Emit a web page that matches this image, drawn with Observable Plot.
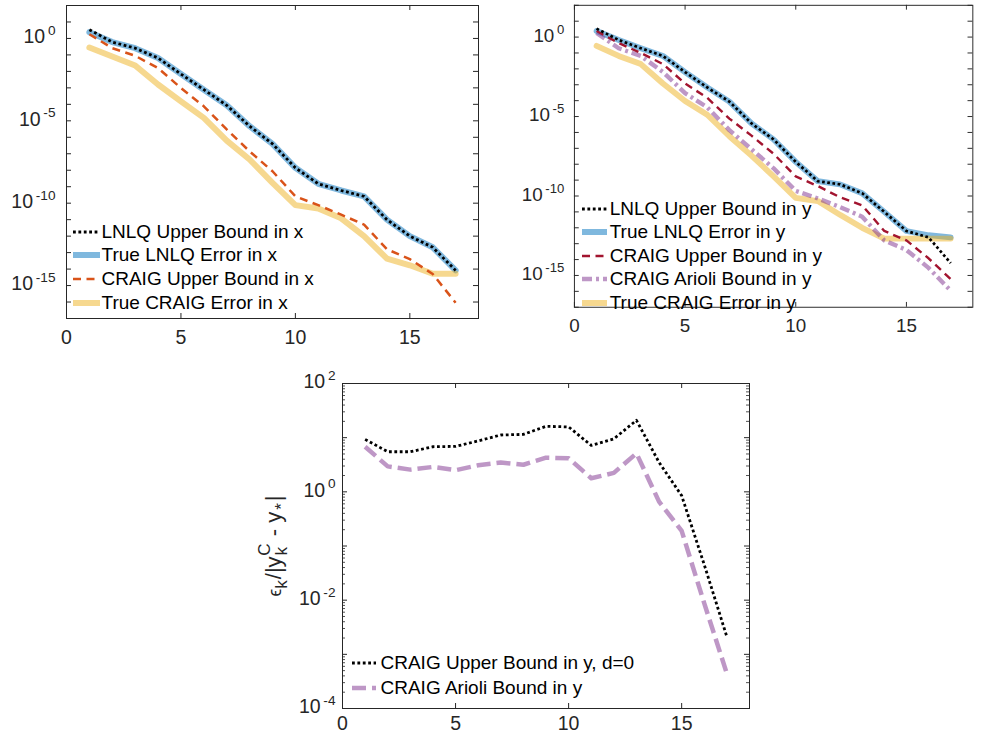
<!DOCTYPE html>
<html><head><meta charset="utf-8">
<script src="https://cdn.jsdelivr.net/npm/d3@7"></script>
<script src="https://cdn.jsdelivr.net/npm/@observablehq/plot@0.6"></script>
<style>
html,body{margin:0;padding:0;background:#fff;}
body{width:982px;height:738px;overflow:hidden;position:relative;font-family:"Liberation Sans",Arial,Helvetica,sans-serif;}
.panel{position:absolute;}
.lrow{position:absolute;white-space:nowrap;display:flex;align-items:center;color:#000;}
.lrow svg{display:block;flex:none;}
</style></head><body>
<div id="p1" class="panel" style="left:0;top:0"></div>
<div id="p2" class="panel" style="left:490px;top:0"></div>
<div id="p3" class="panel" style="left:260px;top:370px"></div>
<script>
// ---------- data ----------
const iterations = [1,2,3,4,5,6,7,8,9,10,11,12,13,14,15,16,17];

// top-left panel (errors in x)
const lnlqBoundX = [3.4,0.60,0.257,0.0646,6.9e-3,7.8e-4,8.7e-5,4.7e-6,4.0e-7,1.4e-8,1.5e-9,5.9e-10,2.6e-10,1.0e-11,1.0e-12,2.1e-13,8.3e-15];
const trueLnlqX  = [2.4,0.60,0.257,0.0646,6.9e-3,7.8e-4,8.7e-5,4.7e-6,4.0e-7,1.4e-8,1.5e-9,5.9e-10,2.6e-10,1.0e-11,1.0e-12,2.1e-13,8.3e-15];
const craigBoundX = [1.8,0.257,0.089,0.0158,9.8e-4,7.6e-5,3.0e-6,1.4e-7,8.7e-9,2.6e-10,7.6e-11,2.0e-11,5.0e-12,1.6e-13,4.0e-14,5.0e-15,9.1e-17];
const trueCraigX = [0.28,0.081,0.023,1.6e-3,1.5e-4,1.5e-5,6.3e-7,4.5e-8,1.7e-9,7.6e-11,4.8e-11,1.2e-11,1.0e-12,4.3e-14,1.7e-14,5.2e-15,5.2e-15];

// top-right panel (errors in y)
const lnlqBoundY = [3.4,0.66,0.20,0.065,6.3e-3,6.8e-4,8.7e-5,3.7e-6,3.6e-7,1.4e-8,8.5e-10,5.4e-10,1.5e-10,1.0e-11,6.3e-13,2.5e-13,6.0e-15];
const trueLnlqY  = [2.4,0.66,0.20,0.065,6.3e-3,6.8e-4,8.7e-5,3.7e-6,3.6e-7,1.4e-8,8.5e-10,5.4e-10,1.5e-10,1.0e-11,6.3e-13,3.4e-13,2.5e-13];
const craigBoundY = [2.4,0.42,0.10,0.020,1.2e-3,1.5e-4,7.4e-6,6.3e-7,4.5e-8,1.7e-9,4.2e-10,8.3e-11,2.6e-11,6.3e-13,1.6e-13,1.2e-14,5.9e-16];
const arioliY = [1.8,0.20,0.065,6.3e-3,3.0e-4,3.8e-5,1.4e-6,8.9e-8,5.5e-9,2.1e-10,7.0e-11,2.0e-11,5.0e-12,1.6e-13,4.0e-14,3.0e-15,1.1e-16];
const trueCraigY = [0.28,0.065,0.020,1.2e-3,9.5e-5,1.3e-5,5.8e-7,3.5e-8,1.7e-9,7.6e-11,4.8e-11,6.5e-12,1.0e-12,2.1e-13,2.1e-13,2.1e-13,2.1e-13];

// bottom panel (ratios)
const craigBoundD0Ratio = [9.3,5.5,5.5,6.8,6.9,8.7,11.2,11.5,16.2,15.8,7.2,9.5,20.9,3.5,0.85,0.045,2.1e-3];
const arioliRatio = [6.8,2.95,2.57,2.88,2.51,3.09,3.47,3.16,4.27,4.17,1.78,2.24,5.13,0.66,0.19,8.7e-3,4.4e-4];

// ticks / labels
const xTickValues = [0,5,10,15];
const yLabelTicksTop = [1e0,1e-5,1e-10,1e-15];
const yLabelTicksBottom = [1e2,1e0,1e-2,1e-4];
const legendTopLeft = ["LNLQ Upper Bound in x","True LNLQ Error in x","CRAIG Upper Bound in x","True CRAIG Error in x"];
const legendTopRight = ["LNLQ Upper Bound in y","True LNLQ Error in y","CRAIG Upper Bound in y","CRAIG Arioli Bound in y","True CRAIG Error in y"];
const legendBottom = ["CRAIG Upper Bound in y, d=0","CRAIG Arioli Bound in y"];

// ---------- styles ----------
const S = {
  lnlqBound: {stroke:"#000000", strokeWidth:2.8, strokeDasharray:"2.8,2.6", strokeLinecap:"butt"},
  trueLnlq: {stroke:"#0072BD", strokeWidth:6, strokeOpacity:0.5},
  craigBoundX: {stroke:"#D95319", strokeWidth:2.5, strokeDasharray:"8,5.5", strokeLinecap:"butt"},
  craigBoundY: {stroke:"#A2142F", strokeWidth:2.5, strokeDasharray:"8,5.5", strokeLinecap:"butt"},
  trueCraig: {stroke:"#EDB120", strokeWidth:6, strokeOpacity:0.5},
  arioliDashDot: {stroke:"#7E2F8E", strokeWidth:4.5, strokeOpacity:0.5, strokeDasharray:"10,4,3,4", strokeLinecap:"butt"},
  arioliDash: {stroke:"#7E2F8E", strokeWidth:4.5, strokeOpacity:0.5, strokeDasharray:"14,6", strokeLinecap:"butt"}
};
const FONT = '"Liberation Sans", Arial, Helvetica, sans-serif';
const TICKCOL = "#262626";

function rows(values){ return values.map((v,i)=>({k:iterations[i], v})); }
function lineMark(values, st){
  const o = {x:"k", y:"v", stroke:st.stroke, strokeWidth:st.strokeWidth, strokeLinejoin:"round"};
  if (st.strokeOpacity != null) o.strokeOpacity = st.strokeOpacity;
  if (st.strokeDasharray) { o.strokeDasharray = st.strokeDasharray; o.strokeLinecap = st.strokeLinecap; }
  return Plot.line(rows(values), o);
}

function makePanel(cfg){
  const {width,height,ml,mr,mt,mb,yDomain,majorY,minorY,labelY,xPad,yPad,layers,fontSize} = cfg;
  const pw = width-ml-mr, ph = height-mt-mb;
  const marks = [
    ...layers,
    Plot.frame({stroke:TICKCOL, strokeWidth:1}),
    Plot.tickX(xTickValues, {x:d=>d, insetTop:ph-5, stroke:TICKCOL}),
    Plot.tickX(xTickValues, {x:d=>d, insetBottom:ph-5, stroke:TICKCOL}),
    Plot.tickY(majorY, {y:d=>d, insetRight:pw-5, stroke:TICKCOL}),
    Plot.tickY(majorY, {y:d=>d, insetLeft:pw-5, stroke:TICKCOL})
  ];
  if (minorY) {
    marks.push(Plot.tickY(minorY, {y:d=>d, insetRight:pw-3, stroke:TICKCOL, strokeWidth:0.8}));
    marks.push(Plot.tickY(minorY, {y:d=>d, insetLeft:pw-3, stroke:TICKCOL, strokeWidth:0.8}));
  }
  marks.push(Plot.axisX({ticks:xTickValues, tickSize:0, tickPadding:xPad, label:null, tickFormat:d=>String(d)}));
  marks.push(Plot.axisY({ticks:labelY, tickSize:0, tickPadding:yPad, label:null, dy:-1.5,
    tickFormat:v=>"10^"+Math.round(Math.log10(v))}));
  const svg = Plot.plot({
    width, height, marginLeft:ml, marginRight:mr, marginTop:mt, marginBottom:mb,
    x:{domain:[0,18], label:null},
    y:{type:"log", domain:yDomain, label:null},
    style:{background:"transparent", overflow:"visible", fontFamily:FONT, fontSize:fontSize+"px", color:TICKCOL},
    marks
  });
  // superscript exponents
  d3.select(svg).selectAll("text").each(function(){
    const m = /^10\^(-?\d+)$/.exec(this.textContent);
    if (!m) return;
    const t = d3.select(this);
    t.text(null);
    t.append("tspan").text("10");
    t.append("tspan").attr("dx","0.2em").attr("dy","-0.6em").attr("font-size","0.7em").text(m[1]);
  });
  return svg;
}

const decadesTop = d3.range(-17,3).map(e=>Math.pow(10,e));
const decadesBottom = d3.range(-4,3).map(e=>Math.pow(10,e));
const minorBottom = [];
d3.range(-4,2).forEach(e=>{ for (let m=2;m<=9;m++) minorBottom.push(m*Math.pow(10,e)); });

const TF = 19.5;
const p1 = makePanel({width:490,height:348,ml:66,mr:12,mt:5,mb:30,yDomain:[1e-17,1e2],
  majorY:decadesTop,labelY:yLabelTicksTop,xPad:12,yPad:11,fontSize:TF,
  layers:[lineMark(trueLnlqX,S.trueLnlq),lineMark(trueCraigX,S.trueCraig),lineMark(craigBoundX,S.craigBoundX),lineMark(lnlqBoundX,S.lnlqBound)]});
document.getElementById("p1").appendChild(p1);

const p2 = makePanel({width:510,height:348,ml:87,mr:10,mt:5,mb:30,yDomain:[1e-17,1e2],
  majorY:decadesTop,labelY:yLabelTicksTop,xPad:12,yPad:10.5,fontSize:TF,
  layers:[lineMark(trueLnlqY,S.trueLnlq),lineMark(trueCraigY,S.trueCraig),lineMark(arioliY,S.arioliDashDot),lineMark(craigBoundY,S.craigBoundY),lineMark(lnlqBoundY,S.lnlqBound)]});
document.getElementById("p2").appendChild(p2);

const p3 = makePanel({width:499,height:368,ml:82,mr:10,mt:13,mb:30,yDomain:[1e-4,1e2],
  majorY:decadesBottom,minorY:minorBottom,labelY:yLabelTicksBottom,xPad:8,yPad:7,fontSize:TF,
  layers:[lineMark(arioliRatio,S.arioliDash),lineMark(craigBoundD0Ratio,S.lnlqBound)]});
document.getElementById("p3").appendChild(p3);

// y label of bottom panel
(function(){
  const t = d3.select(p3).append("text")
    .attr("transform","translate(21,176) rotate(-90)")
    .attr("text-anchor","middle").attr("fill","#262626")
    .style("font-size","22px").style("font-family",FONT);
  t.append("tspan").attr("font-size","0.8em").text("\u03F5");
  t.append("tspan").attr("font-size","0.78em").attr("dy",6).text("k");
  t.append("tspan").attr("dx",1).attr("dy",-6).text("/|y");
  t.append("tspan").attr("font-size","0.78em").attr("dx",1).attr("dy",6).text("k");
  t.append("tspan").attr("font-size","0.78em").attr("dx",-9).attr("dy",-17).text("C");
  t.append("tspan").attr("dx",1).attr("dy",11).text(" - y");
  t.append("tspan").attr("font-size","0.78em").attr("dx",2).attr("dy",6).text("*");
  t.append("tspan").attr("dx",2).attr("dy",-6).text("|");
})();

// ---------- legends ----------
function legend(labels, styles, left, firstCenter, spacing, swW, gap, fontSize){
  labels.forEach((lab,i)=>{
    const st = styles[i];
    const H = 22;
    const row = document.createElement("div");
    row.className = "lrow";
    row.style.left = left+"px";
    row.style.top = (firstCenter + i*spacing - H/2)+"px";
    row.style.height = H+"px";
    row.style.lineHeight = H+"px";
    row.style.fontSize = fontSize+"px";
    const ns = "http://www.w3.org/2000/svg";
    const svg = document.createElementNS(ns,"svg");
    svg.setAttribute("width",swW); svg.setAttribute("height",H);
    const ln = document.createElementNS(ns,"line");
    ln.setAttribute("x1",0); ln.setAttribute("x2",swW);
    ln.setAttribute("y1",H/2); ln.setAttribute("y2",H/2);
    ln.setAttribute("stroke",st.stroke); ln.setAttribute("stroke-width",st.strokeWidth);
    if (st.strokeOpacity!=null) ln.setAttribute("stroke-opacity",st.strokeOpacity);
    if (st.strokeDasharray) ln.setAttribute("stroke-dasharray",st.strokeDasharray);
    svg.appendChild(ln);
    const span = document.createElement("span");
    span.textContent = lab;
    span.style.marginLeft = gap+"px";
    row.appendChild(svg); row.appendChild(span);
    document.body.appendChild(row);
  });
}
const LF = 19;
legend(legendTopLeft,[S.lnlqBound,S.trueLnlq,S.craigBoundX,S.trueCraig],73,231.7,23.6,27,1.5,LF);
legend(legendTopRight,[S.lnlqBound,S.trueLnlq,S.craigBoundY,S.arioliDashDot,S.trueCraig],581.7,208.5,23.5,25,3,LF);
legend(legendBottom,[S.lnlqBound,S.arioliDash],351.7,663.3,25,24.3,4.5,LF);
</script>
</body></html>
